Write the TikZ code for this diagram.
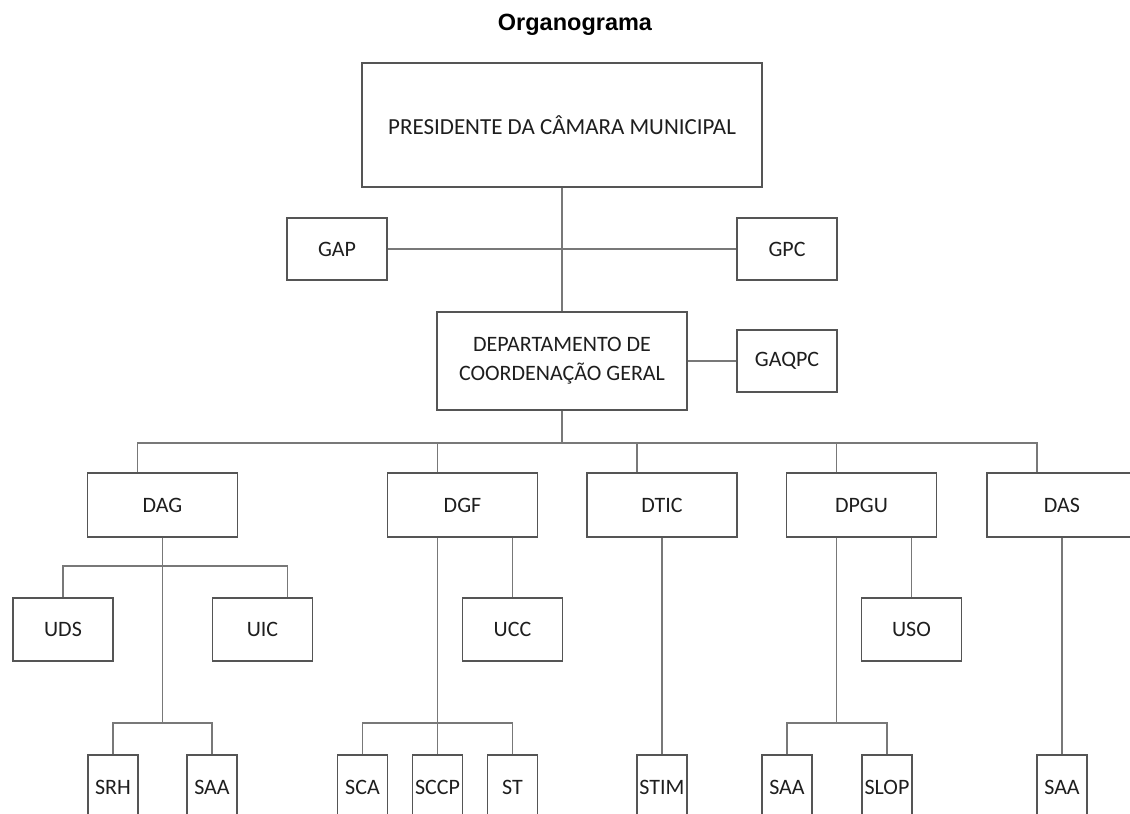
\documentclass[tikz,border=0pt]{standalone}
\usepackage{fontspec}
\setmainfont{Carlito}
\newfontfamily\titlefont{Liberation Sans}
\usetikzlibrary{positioning}
\definecolor{boxline}{RGB}{85,85,85}
\definecolor{linkline}{RGB}{120,120,120}
\definecolor{boxtext}{RGB}{30,30,30}

\begin{document}
\begin{tikzpicture}[x=1pt, y=-1pt,
    box/.style={draw=boxline, line width=1.3pt, text=boxtext, inner sep=0pt,
                align=center, font=\fontsize{22}{29}\selectfont},
    unitbox/.style={box, minimum width=100pt, minimum height=62pt},
    deptbox/.style={box, minimum width=150pt, minimum height=64pt},
    secbox/.style={box, minimum width=50pt, minimum height=64pt},
    link/.style={draw=linkline, line width=1.6pt},
]
\useasboundingbox (0,0) rectangle (1130,814);
\clip (0,0) rectangle (1130,814);

% --- Title ---
\node[font=\titlefont\bfseries\fontsize{23.5}{28}\selectfont] (title) at (575,25) {Organograma};

% --- Top ---
\node[box, minimum width=400pt, minimum height=124pt, font=\fontsize{23}{29}\selectfont]
    (pres) at (562,125) {PRESIDENTE DA CÂMARA MUNICIPAL};
\node[unitbox] (gap) at (337,249) {GAP};
\node[unitbox] (gpc) at (787,249) {GPC};
\node[box, minimum width=250pt, minimum height=98pt] (dcg) at (562,361) {DEPARTAMENTO DE\\COORDENAÇÃO GERAL};
\node[unitbox] (gaqpc) at (787,361) {GAQPC};

% --- Departments ---
\node[deptbox] (dag)  at (162.5,505) {DAG};
\node[deptbox] (dgf)  at (462.5,505) {DGF};
\node[deptbox] (dtic) at (662,505)   {DTIC};
\node[deptbox] (dpgu) at (861.5,505) {DPGU};
\node[deptbox] (das)  at (1062,505)  {DAS};

% --- Units ---
\node[unitbox, minimum height=63pt] (uds) at (63,629.5)    {UDS};
\node[unitbox, minimum height=63pt] (uic) at (262.5,629.5) {UIC};
\node[unitbox, minimum height=63pt] (ucc) at (512.5,629.5) {UCC};
\node[unitbox, minimum height=63pt] (uso) at (911.5,629.5) {USO};

% --- Sections ---
\node[secbox] (srh)  at (113,787)   {SRH};
\node[secbox] (saaA) at (212,787)   {SAA};
\node[secbox] (sca)  at (362.5,787) {SCA};
\node[secbox] (sccp) at (437.5,787) {SCCP};
\node[secbox] (st)   at (512.5,787) {ST};
\node[secbox] (stim) at (662,787)   {STIM};
\node[secbox] (saaB) at (787,787)   {SAA};
\node[secbox] (slop) at (887,787)   {SLOP};
\node[secbox] (saaC) at (1062,787)  {SAA};

% --- Connectors ---
\coordinate (bus) at (562,443);
\draw[link] (pres.south) -- (dcg.north);
\draw[link] (gap.east) -- (gpc.west);
\draw[link] (dcg.east) -- (gaqpc.west);
\draw[link] (dcg.south) -- (bus);
\foreach \d in {dag,dgf,dtic,dpgu,das}
    \draw[link] (bus) -| ([xshift=-25pt]\d.north);

% DAG
\coordinate (dagA) at (162.5,566);
\coordinate (dagB) at (162.5,723);
\draw[link] (dag.south) -- (dagB);
\draw[link] (dagA) -| (uds.north);
\draw[link] (dagA) -| ([xshift=25pt]uic.north);
\draw[link] (dagB) -| (srh.north);
\draw[link] (dagB) -| (saaA.north);

% DGF
\coordinate (dgfB) at (437.5,723);
\draw[link] ([xshift=-25pt]dgf.south) -- (dgfB);
\draw[link] ([xshift=50pt]dgf.south) -- (ucc.north);
\draw[link] (dgfB) -| (sca.north);
\draw[link] (dgfB) -- (sccp.north);
\draw[link] (dgfB) -| (st.north);

% DTIC
\draw[link] (dtic.south) -- (stim.north);

% DPGU
\coordinate (dpguB) at (836.5,723);
\draw[link] ([xshift=-25pt]dpgu.south) -- (dpguB);
\draw[link] ([xshift=50pt]dpgu.south) -- (uso.north);
\draw[link] (dpguB) -| (saaB.north);
\draw[link] (dpguB) -| (slop.north);

% DAS
\draw[link] (das.south) -- (saaC.north);
\end{tikzpicture}
\end{document}
